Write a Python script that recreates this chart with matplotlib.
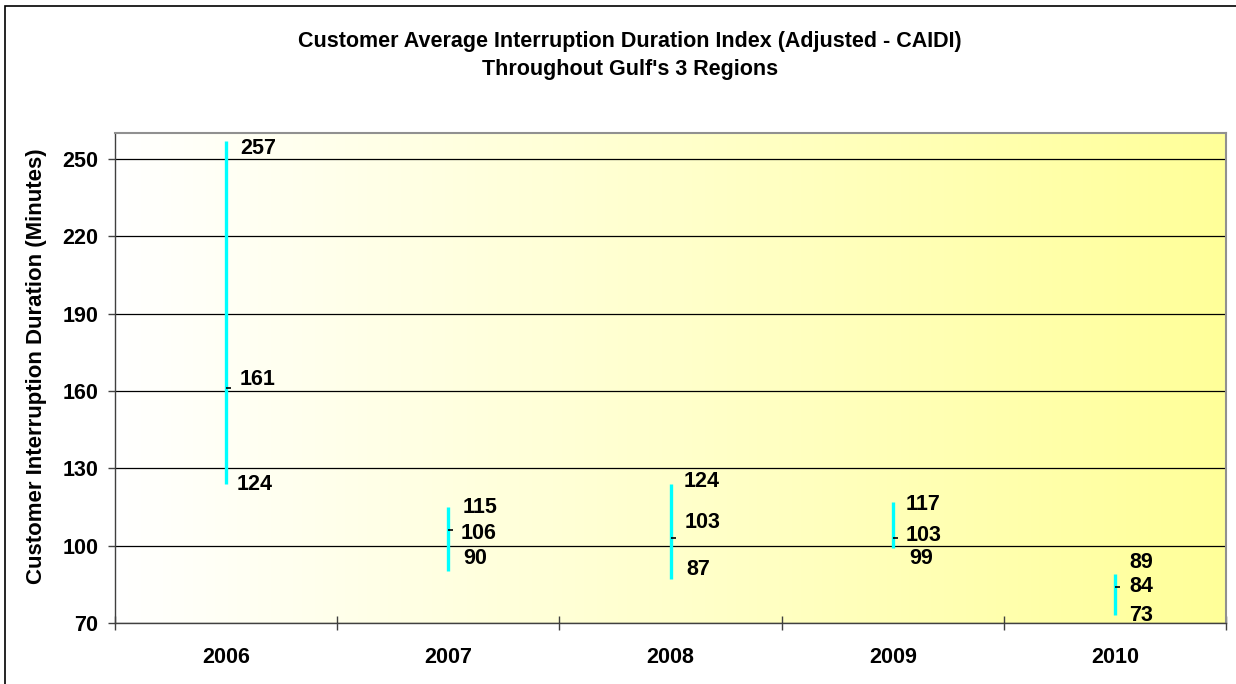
import numpy as np
import matplotlib
matplotlib.use("Agg")
from matplotlib import pyplot as plt
from matplotlib.path import Path
from matplotlib.patches import Rectangle

plt.rcParams['font.family'] = ['Liberation Sans', 'DejaVu Sans']
plt.rcParams['font.weight'] = 'bold'

years = ["2006", "2007", "2008", "2009", "2010"]
high = [257, 115, 124, 117, 89]
low = [124, 90, 87, 99, 73]
close = [161, 106, 103, 103, 84]

# label nudges in pixels (dx, dy) for high / close / low
hi_off = [(14, -8), (14, -1), (13, 2), (13, -3), (14, 12)]
cl_off = [(14, 9), (12, -3), (14, 15), (13, 2), (14, 0)]
lo_off = [(11, -1), (15, 13), (16, 10), (17, -10), (14, 0)]

FS = 15.5

fig = plt.figure(figsize=(12.36, 6.84), dpi=100)
fig.patch.set_facecolor("white")
W, H = 1236, 684
ax = fig.add_axes([115 / W, (H - 623) / H, (1226 - 115) / W, (623 - 133) / H])

# white -> yellow gradient background
grad = np.linspace(0, 1, 256).reshape(1, -1)
cmap = matplotlib.colors.LinearSegmentedColormap.from_list("wy", ["#ffffff", "#ffff99"])
ax.imshow(grad, cmap=cmap, aspect="auto", extent=[0, 1, 0, 1],
          transform=ax.transAxes, zorder=0)

x = np.arange(len(years))
ax.vlines(x, low, high, color="#00ffff", lw=2.4, zorder=3)
tick = Path([(0, 0), (1, 0)])
ax.plot(x, close, ls="none", marker=tick, markersize=7, mec="black", mew=1.2, zorder=4)

for i in range(len(years)):
    for val, (dx, dy) in ((high[i], hi_off[i]), (close[i], cl_off[i]), (low[i], lo_off[i])):
        ax.annotate(str(val), (x[i], val), xytext=(dx, dy), textcoords="offset pixels",
                    ha="left", va="center", fontsize=FS, fontweight="bold", zorder=5)

ax.set_xlim(-0.5, 4.5)
ax.set_ylim(70, 260)
ax.set_yticks([70, 100, 130, 160, 190, 220, 250])
ax.grid(axis="y", color="black", lw=0.9, zorder=1)
ax.set_axisbelow(True)

ax.set_xticks(x)
ax.set_xticklabels(years)
ax.set_xticks(np.arange(-0.5, 5, 1), minor=True)
ax.tick_params(axis="x", which="major", length=0, pad=17, labelsize=FS)
ax.tick_params(axis="x", which="minor", direction="inout", length=10, width=1, color="#404040")
ax.tick_params(axis="y", direction="out", length=5, width=1, pad=7, labelsize=FS, color="#404040")
for lab in ax.get_xticklabels() + ax.get_yticklabels():
    lab.set_fontweight("bold")

for s in ("top", "right"):
    ax.spines[s].set_color("#909090")
    ax.spines[s].set_linewidth(1.5)
for s in ("left", "bottom"):
    ax.spines[s].set_color("#404040")
    ax.spines[s].set_linewidth(1)

ax.set_ylabel("Customer Interruption Duration (Minutes)", fontsize=16, fontweight="bold")
ax.yaxis.set_label_coords((47 - 115) / 1111, (623 - 366) / 490)

fig.text(630 / W, 1 - 41 / H, "Customer Average Interruption Duration Index (Adjusted - CAIDI)",
         ha="center", va="center", fontsize=FS, fontweight="bold")
fig.text(630 / W, 1 - 70 / H, "Throughout Gulf's 3 Regions",
         ha="center", va="center", fontsize=FS, fontweight="bold")

# outer chart border (only top/left visible in the crop)
fig.patches.append(Rectangle((5 / W, -0.1), 1.2, 1 - 6 / H + 0.1, transform=fig.transFigure,
                             fill=False, ec="black", lw=1.2))

fig.savefig("out.png", dpi=100)
